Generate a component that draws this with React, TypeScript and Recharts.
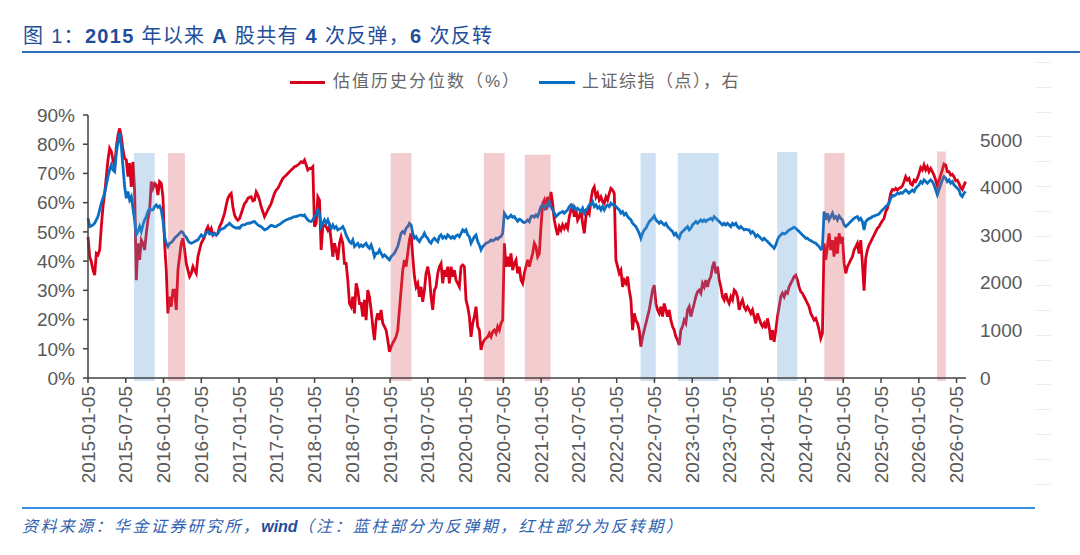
import { LineChart, Line, XAxis, YAxis, ReferenceArea } from 'recharts'

// samples are ~8 days apart, starting 2015-01-05 (x axis is months since then)
const STEP = 0.2646

// valuation percentile (%)
const val2015 = [
  48.3, 41.5, 39.8, 36.9, 35.2, 42.6, 42.1, 43.8, 51.8, 58.6,
  63.2, 68.9, 74.6, 78.6, 77.5, 74.6, 72.3, 79.1, 83.1, 85.4,
  82.6, 78.0, 75.1, 74.6, 68.9, 73.5, 65.4, 74.0, 64.3, 33.5,
  46.1, 40.4, 47.2, 46.1, 43.8, 49.5, 54.2, 57.5, 67.2, 64.9,
  66.6, 66.0, 62.6, 67.2, 66.6, 62.0, 46.1, 36.9, 22.1, 27.8,
  24.4, 30.1, 30.1, 23.3, 36.9, 41.5, 46.1, 47.8, 43.8, 39.2,
  36.9, 34.7, 35.8, 38.1, 36.9, 35.8, 41.5, 43.8, 46.1, 47.2,
  48.3, 50.6, 51.8, 50.1, 51.2, 48.9, 49.5, 48.9, 49.5, 51.8,
  52.9, 54.6, 56.3, 59.2, 61.5, 62.6, 63.2, 58.6, 55.8, 54.6,
  54.0, 54.6, 56.3, 58.0, 59.7, 60.3, 61.5, 61.8, 62.0, 60.6,
  60.9, 63.7, 62.6, 60.9, 58.6, 56.9, 55.2, 56.3, 57.5, 58.6,
  59.7, 61.5, 63.2, 64.3, 64.9, 66.0, 67.2, 68.3, 68.9, 69.4,
  70.0, 70.6, 71.2, 71.7, 72.3, 72.5, 72.9, 73.4, 74.0, 73.7,
  74.6, 72.9, 71.2, 71.7,
]
const val2018 = [
  71.7, 72.3, 51.8, 52.9, 62.0, 60.9, 43.8, 51.8, 52.2, 51.8,
  50.6, 51.8, 47.2, 41.5, 46.1, 43.8, 40.4, 46.1, 48.3, 46.1,
  39.2, 39.2, 33.5, 25.5, 24.4, 27.8, 22.1, 32.4, 30.1, 25.5,
  25.5, 21.0, 26.7, 19.8, 30.1, 27.8, 23.3, 17.6, 13.0, 19.8,
  22.1, 19.8, 23.3, 18.7, 17.6, 16.4, 13.0, 9.0, 10.7, 11.9,
  13.0, 14.1, 16.4, 23.3, 30.1, 36.9, 40.4, 38.1, 42.6, 47.2,
  49.5, 41.5, 34.7, 31.2, 32.4, 27.8, 31.2, 26.1, 30.1, 35.8,
  38.1, 34.7, 27.8, 23.3, 30.1, 31.2, 35.8, 38.1, 39.2, 32.4,
  36.9, 34.7, 38.1, 32.4, 38.1, 34.7, 36.9, 33.5, 32.4, 31.2,
  38.1, 38.7, 38.1, 26.7, 24.4, 21.0, 14.1, 18.7, 21.0, 24.4,
  17.6, 16.4, 9.6, 11.9, 13.0, 13.6, 14.1, 15.3, 14.1, 15.8,
  16.4, 15.3, 17.6, 16.4, 18.7, 19.8, 46.1, 38.1, 41.5, 38.1,
  42.6, 36.9, 39.2, 40.4, 35.8, 38.1, 33.5, 32.4, 35.8, 38.1,
  40.4, 38.1,
]
const val2020 = [
  40.4, 42.6, 46.1, 44.9, 41.5, 42.6, 51.8, 59.7, 60.9, 57.5,
  62.0, 58.6, 63.7, 59.7, 54.0, 51.2, 48.9, 51.8, 50.6, 52.4,
  51.2, 52.4, 51.2, 55.2, 57.5, 58.6, 55.2, 57.5, 54.0, 55.2,
  57.5, 52.9, 49.5, 55.2, 57.5, 56.3, 60.9, 64.3, 65.4, 62.0,
  63.2, 60.9, 62.0, 60.3, 59.7, 62.0, 60.9, 63.2, 64.9, 64.3,
  63.2, 40.4, 38.1, 35.8, 36.9, 31.2, 33.5, 32.4, 34.7, 30.1,
  26.7, 16.4, 22.1, 19.8, 18.7, 16.4, 10.7, 14.1, 16.4, 18.7,
  21.0, 23.3, 26.7, 30.1, 31.8, 25.5, 23.3, 22.1, 24.4, 21.0,
  25.5, 23.3, 21.0, 23.3, 19.8, 17.6, 16.4, 14.1, 13.0, 11.3,
  16.4, 17.6, 19.8, 18.7, 23.3, 24.4, 21.0, 23.3, 25.5, 27.8,
  29.5, 30.1, 29.0, 32.4, 31.2, 33.5, 31.2, 33.5, 34.7, 38.1,
  39.8, 35.8, 38.1, 33.5, 31.2, 27.8, 26.7, 29.0, 26.7, 25.5,
  27.8, 26.7, 30.1, 29.5, 27.8, 23.3, 25.5, 26.7, 24.4, 23.3,
  24.4, 23.3,
]
const val2024 = [
  22.1, 23.3, 21.0, 18.7, 22.1, 20.4, 18.7, 17.6, 18.7, 17.0,
  20.4, 17.6, 13.0, 16.4, 12.4, 16.4, 21.0, 24.4, 27.8, 29.0,
  27.8, 29.5, 29.0, 31.2, 32.4, 33.5, 34.7, 35.2, 33.5, 31.2,
  29.5, 29.0, 27.8, 26.7, 25.5, 24.4, 22.1, 21.0, 19.8, 20.4,
  18.7, 16.4, 13.6, 15.3, 46.1, 40.4, 44.9, 49.5, 43.8, 47.2,
  41.5, 48.3, 42.6, 49.5, 46.1, 48.3, 39.2, 35.8, 38.1, 39.2,
  40.4, 41.5, 43.8, 44.9, 46.1, 42.6, 47.2, 39.2, 29.9, 41.0,
  43.8, 45.5, 46.6, 47.8, 48.9, 50.1, 51.2, 51.8, 52.9, 53.8,
  54.6, 56.9, 58.0, 60.3, 63.2, 64.5, 64.3, 64.9, 64.3, 64.9,
  65.2, 65.7, 67.2, 68.9, 67.7, 68.3, 66.4, 66.0, 67.7, 67.2,
  68.3, 70.0, 72.0, 71.2, 72.9, 71.2, 72.3, 70.6, 71.7, 70.6,
  69.4, 67.7, 65.7, 67.7, 69.4, 71.2, 73.2, 72.9, 70.6, 70.6,
  69.4, 69.7, 68.9, 67.5, 67.7, 66.6, 65.2, 64.5, 66.0, 67.2,
]

// Shanghai Composite (points), same sampling dates
const sse2015 = [
  3353, 3178, 3192, 3213, 3248, 3318, 3388, 3528, 3668, 3773,
  3878, 4053, 4228, 4368, 4473, 4368, 4333, 4718, 4963, 5138,
  4858, 4438, 4018, 3773, 3913, 3738, 3808, 3563, 3318, 3003,
  3073, 3178, 3073, 3213, 3318, 3388, 3493, 3563, 3528, 3528,
  3598, 3633, 3584, 3612, 3528, 3318, 2968, 2828, 2758, 2828,
  2842, 2884, 2933, 2968, 3003, 3038, 3073, 3052, 2982, 2954,
  2884, 2842, 2828, 2842, 2863, 2884, 2898, 2954, 3003, 2968,
  2982, 3052, 3073, 3024, 3038, 3003, 3024, 3003, 3038, 3094,
  3122, 3136, 3150, 3192, 3213, 3248, 3213, 3178, 3164, 3143,
  3157, 3143, 3192, 3213, 3213, 3234, 3248, 3248, 3262, 3276,
  3283, 3248, 3213, 3192, 3178, 3143, 3108, 3122, 3143, 3178,
  3206, 3192, 3178, 3178, 3206, 3220, 3248, 3276, 3297, 3318,
  3332, 3346, 3353, 3374, 3388, 3388, 3402, 3416, 3423, 3402,
  3423, 3360, 3318, 3290,
]
const sse2018 = [
  3283, 3318, 3388, 3423, 3528, 3458, 3178, 3248, 3318, 3248,
  3318, 3213, 3143, 3213, 3143, 3178, 3108, 3129, 3143, 3178,
  3108, 3003, 2933, 2863, 2828, 2898, 2758, 2793, 2828, 2758,
  2793, 2758, 2793, 2828, 2758, 2723, 2793, 2688, 2548, 2618,
  2618, 2688, 2618, 2548, 2583, 2548, 2513, 2478, 2548, 2583,
  2618, 2688, 2758, 2898, 3038, 3073, 3038, 3143, 3178, 3248,
  3213, 3038, 2933, 2968, 2898, 2863, 2933, 2968, 3038, 2968,
  2933, 2863, 2828, 2898, 2933, 2898, 2863, 2968, 3003, 2933,
  2968, 2933, 3003, 2968, 2933, 2968, 2933, 2982, 3003, 2968,
  3038, 3108, 3073, 3108, 3003, 2968, 2828, 2898, 2968, 3003,
  2863, 2793, 2688, 2758, 2793, 2828, 2842, 2863, 2898, 2877,
  2898, 2933, 2912, 2954, 2968, 3038, 3458, 3402, 3353, 3374,
  3416, 3374, 3388, 3332, 3290, 3332, 3318, 3276, 3262, 3283,
  3318, 3283,
]
const sse2020 = [
  3388, 3402, 3374, 3423, 3388, 3493, 3598, 3633, 3563, 3633,
  3598, 3703, 3598, 3528, 3458, 3388, 3423, 3458, 3472, 3493,
  3458, 3493, 3528, 3598, 3633, 3563, 3598, 3528, 3563, 3528,
  3493, 3563, 3458, 3528, 3563, 3633, 3633, 3703, 3598, 3633,
  3563, 3598, 3528, 3598, 3528, 3598, 3633, 3598, 3668, 3633,
  3633, 3598, 3563, 3528, 3458, 3493, 3423, 3458, 3388, 3353,
  3318, 3248, 3213, 3178, 3108, 3038, 2933, 3038, 3108, 3143,
  3213, 3283, 3318, 3353, 3402, 3318, 3283, 3248, 3283, 3248,
  3213, 3248, 3178, 3143, 3108, 3073, 3003, 3038, 2968, 2933,
  3038, 3073, 3108, 3143, 3178, 3108, 3143, 3213, 3248, 3283,
  3248, 3283, 3318, 3283, 3318, 3283, 3318, 3332, 3353, 3318,
  3388, 3353, 3318, 3283, 3248, 3213, 3248, 3213, 3248, 3213,
  3178, 3248, 3213, 3248, 3178, 3143, 3178, 3143, 3108, 3122,
  3108, 3108,
]
const sse2024 = [
  3038, 3073, 3038, 2968, 3003, 2968, 2933, 2898, 2933, 2898,
  2863, 2828, 2793, 2758, 2723, 2793, 2898, 2968, 3003, 3038,
  3024, 3038, 3073, 3108, 3122, 3143, 3164, 3143, 3108, 3073,
  3038, 3003, 2968, 2933, 2933, 2898, 2884, 2863, 2842, 2828,
  2793, 2758, 2702, 2723, 3493, 3318, 3458, 3318, 3388, 3458,
  3353, 3388, 3318, 3402, 3353, 3318, 3213, 3178, 3213, 3248,
  3283, 3318, 3353, 3374, 3388, 3318, 3353, 3283, 3108, 3283,
  3318, 3346, 3360, 3388, 3395, 3416, 3423, 3444, 3486, 3528,
  3556, 3598, 3626, 3668, 3773, 3836, 3822, 3843, 3878, 3864,
  3892, 3878, 3913, 3948, 3913, 3878, 3913, 3948, 3913, 3983,
  4018, 4053, 4123, 4088, 4158, 4123, 4088, 4123, 4158, 4123,
  4053, 3948, 3843, 3948, 4053, 4158, 4228, 4193, 4123, 4158,
  4088, 4123, 4053, 4018, 3983, 3948, 3843, 3808, 3878, 3913,
]

const valuation = [...val2015, ...val2018, ...val2020, ...val2024]
const sse = [...sse2015, ...sse2018, ...sse2020, ...sse2024]

const rows = valuation.map((v, i) => ({ t: +(i * STEP).toFixed(3), val: v, sse: sse[i] }))

const tickMonths = [0, 6, 12, 18, 24, 30, 36, 42, 48, 54, 60, 66, 72, 78, 84, 90, 96, 102, 108, 114, 120, 126, 132, 138]
const tickLabels = [
  '2015-01-05', '2015-07-05', '2016-01-05', '2016-07-05', '2017-01-05', '2017-07-05',
  '2018-01-05', '2018-07-05', '2019-01-05', '2019-07-05', '2020-01-05', '2020-07-05',
  '2021-01-05', '2021-07-05', '2022-01-05', '2022-07-05', '2023-01-05', '2023-07-05',
  '2024-01-05', '2024-07-05', '2025-01-05', '2025-07-05', '2026-01-05', '2026-07-05',
]
const pctTicks = [0, 10, 20, 30, 40, 50, 60, 70, 80, 90]
const sseTicks = [0, 1000, 2000, 3000, 4000, 5000]

// shaded periods in months since 2015-01-05, [start, end, top %]
const reboundPeriods = [[7.3, 10.6, 77], [87.8, 90.2, 77], [93.7, 100.2, 77], [109.5, 112.7, 77.3]]
const reversalPeriods = [[12.7, 15.4, 77], [48.1, 51.4, 77], [62.9, 66.2, 77], [69.4, 73.5, 76.4], [117.0, 120.2, 77], [134.9, 136.3, 77.5]]

const RED = '#d9001b'
const BLUE = '#0a6fc2'
const GREY = '#595959'
const LATIN = "'Liberation Sans', Arial, 'Noto Sans CJK SC', sans-serif"
const CJK = "'Liberation Sans', 'Noto Sans CJK SC', sans-serif"

const DateTick = ({ x, y, payload }: any) => {
  const label = tickLabels[tickMonths.indexOf(payload.value)] ?? ''
  return (
    <g transform={`translate(${x},${y})`}>
      <text transform="rotate(-90)" x={-1} y={0} textAnchor="end" dominantBaseline="central"
        fill={GREY} fontSize={19} fontFamily={LATIN}>
        {label}
      </text>
    </g>
  )
}

const stubs = Array.from({ length: 18 }, (_, i) => 62 + i * 24.8)

export default function App() {
  return (
    <div style={{ position: 'absolute', left: 0, top: 0, width: 1080, height: 555, background: '#fff', overflow: 'hidden', fontFamily: CJK }}>
      <div style={{ position: 'absolute', left: 23, top: 22, height: 28, lineHeight: '28px', fontSize: 20, color: '#1f4e9a', letterSpacing: 1.3, whiteSpace: 'nowrap' }}>
        图 1：<b>2015</b> 年以来 <b>A</b> 股共有 <b>4</b> 次反弹，<b>6</b> 次反转
      </div>
      <div style={{ position: 'absolute', left: 22, top: 51, width: 1058, height: 1.5, background: '#2f6eba' }} />

      <div style={{ position: 'absolute', left: 290, top: 81, width: 35, height: 3, background: RED }} />
      <div style={{ position: 'absolute', left: 333, top: 71, fontSize: 17, lineHeight: '22px', color: '#666', letterSpacing: 2, whiteSpace: 'nowrap' }}>
        估值历史分位数（%）
      </div>
      <div style={{ position: 'absolute', left: 539, top: 81, width: 36, height: 3, background: BLUE }} />
      <div style={{ position: 'absolute', left: 582, top: 71, fontSize: 17, lineHeight: '22px', color: '#666', letterSpacing: 1.5, whiteSpace: 'nowrap' }}>
        上证综指（点），右
      </div>

      {stubs.map((y) => (
        <div key={y} style={{ position: 'absolute', left: 1036, top: y, width: 15, height: 1, background: '#ececec' }} />
      ))}

      <div style={{ position: 'absolute', left: 0, top: 0 }}>
        <LineChart width={1080} height={555} data={rows} margin={{ top: 115, right: 34, bottom: 67, left: 28 }}>
          <XAxis
            dataKey="t"
            type="number"
            domain={[0, 139.5]}
            ticks={tickMonths}
            interval={0}
            height={110}
            tickSize={5}
            tickMargin={2}
            axisLine={{ stroke: '#404040', strokeWidth: 1.5 }}
            tickLine={{ stroke: '#404040', strokeWidth: 1.5 }}
            tick={<DateTick />}
          />
          <YAxis
            yAxisId="left"
            domain={[0, 90]}
            ticks={pctTicks}
            interval={0}
            width={60}
            tickSize={5}
            tickMargin={8}
            tickFormatter={(v) => `${v}%`}
            axisLine={{ stroke: '#404040', strokeWidth: 1.5 }}
            tickLine={{ stroke: '#404040', strokeWidth: 1.5 }}
            tick={{ fill: GREY, fontSize: 19, fontFamily: LATIN }}
          />
          <YAxis
            yAxisId="right"
            orientation="right"
            domain={[0, 5520]}
            ticks={sseTicks}
            interval={0}
            width={80}
            tickSize={6}
            tickMargin={8}
            axisLine={false}
            tickLine={false}
            tick={{ fill: GREY, fontSize: 19, fontFamily: LATIN, textAnchor: 'start' }}
          />
          <Line yAxisId="left" dataKey="val" type="linear" stroke={RED} strokeWidth={2.8} dot={false} isAnimationActive={false} />
          <Line yAxisId="right" dataKey="sse" type="linear" stroke={BLUE} strokeWidth={2.8} dot={false} isAnimationActive={false} />
          {reboundPeriods.map(([a, b, top]) => (
            <ReferenceArea key={`b${a}`} yAxisId="left" x1={a} x2={b} y1={-1} y2={top}
              fill="#5b9bd5" fillOpacity={0.3} stroke="none" ifOverflow="visible" zIndex={450} />
          ))}
          {reversalPeriods.map(([a, b, top]) => (
            <ReferenceArea key={`r${a}`} yAxisId="left" x1={a} x2={b} y1={-1} y2={top}
              fill="#d4555c" fillOpacity={0.3} stroke="none" ifOverflow="visible" zIndex={450} />
          ))}
        </LineChart>
      </div>

      <div style={{ position: 'absolute', left: 22, top: 507, width: 1013, height: 1.5, background: '#3a8ee0' }} />
      <div style={{ position: 'absolute', left: 22, top: 516, fontSize: 16, lineHeight: '22px', color: '#2f5faf', fontStyle: 'italic', letterSpacing: 2.4, whiteSpace: 'nowrap' }}>
        资料来源：华金证券研究所，<span style={{ fontWeight: 'bold', letterSpacing: 0, color: '#1f4e9a' }}>wind</span>（注：蓝柱部分为反弹期，红柱部分为反转期）
      </div>
    </div>
  )
}
